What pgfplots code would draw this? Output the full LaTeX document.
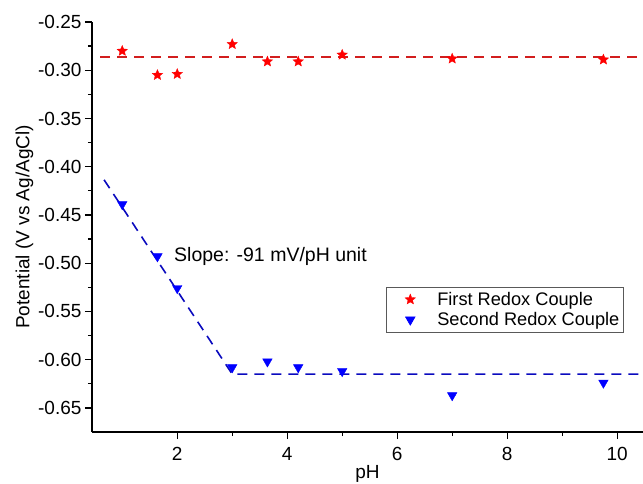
\documentclass[border=0pt]{standalone}
\usepackage{pgfplots}
\pgfplotsset{compat=1.18}
\usepackage{fontspec}
\setmainfont{Liberation Sans}
\definecolor{starred}{RGB}{255,0,0}
\definecolor{dashred}{RGB}{210,30,30}
\definecolor{triblue}{RGB}{0,0,255}
\definecolor{dashblue}{RGB}{10,10,190}
\pgfdeclareplotmark{fstar}{%
  \pgfpathmoveto{\pgfpointpolar{90}{\pgfplotmarksize}}%
  \pgfpathlineto{\pgfpointpolar{126}{0.45\pgfplotmarksize}}%
  \pgfpathlineto{\pgfpointpolar{162}{\pgfplotmarksize}}%
  \pgfpathlineto{\pgfpointpolar{198}{0.45\pgfplotmarksize}}%
  \pgfpathlineto{\pgfpointpolar{234}{\pgfplotmarksize}}%
  \pgfpathlineto{\pgfpointpolar{270}{0.45\pgfplotmarksize}}%
  \pgfpathlineto{\pgfpointpolar{306}{\pgfplotmarksize}}%
  \pgfpathlineto{\pgfpointpolar{342}{0.45\pgfplotmarksize}}%
  \pgfpathlineto{\pgfpointpolar{18}{\pgfplotmarksize}}%
  \pgfpathlineto{\pgfpointpolar{54}{0.45\pgfplotmarksize}}%
  \pgfpathclose
  \pgfusepathqfillstroke
}
\begin{document}
\begin{tikzpicture}
\path[use as bounding box] (-92pt,-51pt) rectangle (551pt,432pt);
\begin{axis}[
  at={(0,0)}, anchor=south west,
  scale only axis, width=551pt, height=410pt,
  xmin=0.45, xmax=10.47, ymin=-0.675, ymax=-0.25,
  axis x line*=bottom, axis y line*=left,
  axis line style={line width=1.8pt},
  tick align=outside,
  major tick length=7pt, minor tick length=4pt,
  every tick/.style={black, line width=1.3pt},
  xtick={2,4,6,8,10}, minor x tick num=1,
  ytick={-0.65,-0.60,-0.55,-0.50,-0.45,-0.40,-0.35,-0.30,-0.25},
  minor y tick num=1,
  /pgf/number format/assume math mode=true,
  yticklabel style={/pgf/number format/.cd, fixed, fixed zerofill, precision=2},
  ticklabel style={font=\fontsize{19}{22}\selectfont},
  xticklabel style={yshift=-5pt},
  label style={font=\fontsize{19}{22}\selectfont},
  xlabel={pH},
  ylabel={Potential (V vs Ag/AgCl)},
  xlabel style={yshift=2pt},
  ylabel style={yshift=-2pt},
  legend style={at={(0.965,0.354)}, anchor=north east, draw=black!65, line width=0.6pt,
    font=\fontsize{18.2}{21}\selectfont, inner xsep=2pt, inner ysep=3pt, row sep=1.5pt},
  legend image code/.code={\path[mark repeat=2,mark phase=2,#1] plot coordinates {(0pt,0pt) (22pt,0pt) (47pt,0pt)};},
  legend cell align=left,
]
\addplot[draw=none, mark=fstar, mark size=5.5pt, mark options={draw=starred, fill=starred, line width=0.3pt, solid}]
  coordinates {
  (1.0,-0.280) (1.64,-0.305) (2.0,-0.304) (3.0,-0.273) (3.64,-0.291)
  (4.2,-0.291) (5.0,-0.284) (7.0,-0.288) (9.75,-0.289)};
\addlegendentry{First Redox Couple}
\addplot[draw=none, mark=triangle*, mark size=5.5pt, mark options={rotate=180, draw=triblue, fill=triblue, solid}]
  coordinates {
  (1.0,-0.439) (1.64,-0.493) (2.0,-0.526) (3.0,-0.608) (3.64,-0.602)
  (4.2,-0.608) (5.0,-0.612) (7.0,-0.637) (9.75,-0.624)};
\addlegendentry{Second Redox Couple}
\addplot[color=dashred, no marks, line width=1.6pt, dash pattern=on 10pt off 7pt, forget plot]
  coordinates {(0.6,-0.2865) (10.47,-0.2865)};
\addplot[color=dashblue, no marks, line width=1.6pt, dash pattern=on 10pt off 7pt, forget plot]
  coordinates {(0.67,-0.4136) (3.0,-0.615) (10.47,-0.615)};
\node[anchor=west, font=\fontsize{19.5}{22}\selectfont] at (axis cs:1.88,-0.4935) {Slope: -91 mV/pH unit};
\end{axis}
\end{tikzpicture}
\end{document}
